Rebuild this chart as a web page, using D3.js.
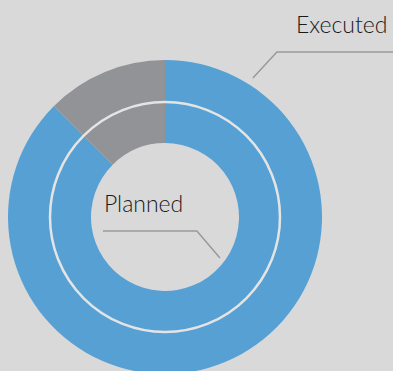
<!DOCTYPE html>
<html>
<head>
<meta charset="utf-8">
<script src="https://cdn.jsdelivr.net/npm/d3@7"></script>
<style>
  html, body { margin: 0; padding: 0; background: #d9d9d9; }
  svg { display: block; }
  text { font-family: Lato, "Open Sans", sans-serif; font-weight: 300; fill: #1a1a1a; }
</style>
</head>
<body>
<svg id="chart" width="393" height="371"></svg>
<script>
// Shares per ring (percent): completed part vs. remaining part
const segments = ["Completed", "Remaining"];
const plannedValues = [87.5, 12.5];
const executedValues = [87.5, 12.5];
const ringLabels = ["Planned", "Executed"];
const segmentColors = ["#56a0d4", "#929397"];

const W = 393, H = 371;
const cx = 165, cy = 217;
const rHole = 74, rMid = 115, rOuter = 157;

const svg = d3.select("#chart");
svg.append("rect").attr("width", W).attr("height", H).attr("fill", "#d9d9d9");

const g = svg.append("g").attr("transform", `translate(${cx},${cy})`);

const pie = d3.pie().sort(null).value(d => d.value);
const color = d3.scaleOrdinal().domain(segments).range(segmentColors);

const rings = [
  { name: ringLabels[0], values: plannedValues, inner: rHole, outer: rMid },
  { name: ringLabels[1], values: executedValues, inner: rMid, outer: rOuter }
];

rings.forEach(ring => {
  const arc = d3.arc().innerRadius(ring.inner).outerRadius(ring.outer);
  const data = pie(segments.map((s, i) => ({ key: s, value: ring.values[i] })));
  g.append("g").selectAll("path")
    .data(data)
    .join("path")
    .attr("d", arc)
    .attr("fill", d => color(d.data.key));
});

// thin light divider between the two rings
g.append("circle")
  .attr("r", rMid)
  .attr("fill", "none")
  .attr("stroke", "#e4e4e4")
  .attr("stroke-width", 2.5);

// polar helper: angle in degrees clockwise from 12 o'clock
const polar = (deg, r) => {
  const a = deg * Math.PI / 180;
  return [Math.sin(a) * r, -Math.cos(a) * r];
};

const line = d3.line();

// Executed label: leader starts just outside the outer ring
const e0 = polar(32.3, rOuter + 7.5);
const e1 = [e0[0] + 24, e0[1] - 26];
const e2 = [W - cx, e1[1]];
g.append("path")
  .attr("d", line([e0, e1, e2]))
  .attr("fill", "none")
  .attr("stroke", "#9a9a9a")
  .attr("stroke-width", 1.5);
g.append("text")
  .attr("x", e1[0] + 19)
  .attr("y", e1[1] - 19)
  .attr("font-size", 23)
  .text(ringLabels[1]);

// Planned label: leader ends just inside the hole
const p2 = polar(126.7, rHole - 5.5);
const p1 = [p2[0] - 23, p2[1] - 27];
const p0 = [p1[0] - 94, p1[1]];
g.append("path")
  .attr("d", line([p0, p1, p2]))
  .attr("fill", "none")
  .attr("stroke", "#9a9a9a")
  .attr("stroke-width", 1.5);
g.append("text")
  .attr("x", p0[0] + 1)
  .attr("y", p0[1] - 19)
  .attr("font-size", 23)
  .text(ringLabels[0]);
</script>
</body>
</html>
